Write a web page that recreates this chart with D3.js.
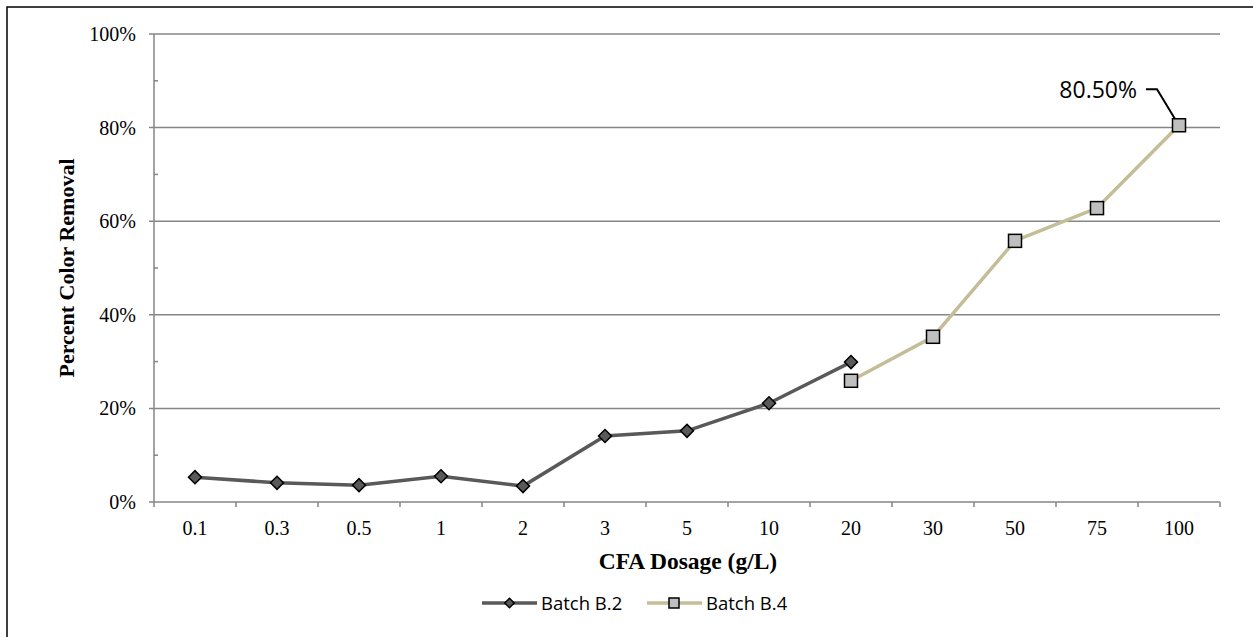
<!DOCTYPE html>
<html>
<head>
    <title>Percent Color Removal</title>
    <script src="https://d3js.org/d3.v7.min.js"></script>
    <style>
        body { margin: 0; background: #fff; }
        .tick-label { font-family: "Liberation Serif", "Times New Roman", serif; font-size: 20px; fill: #000; }
        .axis-title { font-family: "Liberation Serif", "Times New Roman", serif; font-weight: bold; fill: #000; }
        .legend-text { font-family: "Open Sans", "Noto Sans", sans-serif; font-size: 18.5px; fill: #000; }
    </style>
</head>
<body>
<script>
    // data
    var dosages = ["0.1", "0.3", "0.5", "1", "2", "3", "5", "10", "20", "30", "50", "75", "100"];
    var batchB2Dosages = ["0.1", "0.3", "0.5", "1", "2", "3", "5", "10", "20"];
    var batchB2Values = [0.053, 0.041, 0.036, 0.055, 0.034, 0.141, 0.152, 0.211, 0.299];
    var batchB4Dosages = ["20", "30", "50", "75", "100"];
    var batchB4Values = [0.259, 0.353, 0.558, 0.628, 0.805];
    var yTicks = [0, 0.2, 0.4, 0.6, 0.8, 1.0];
    var yMinorTicks = [0.1, 0.3, 0.5, 0.7, 0.9];

    var w = 1253, h = 637;
    var plotLeft = 154, plotRight = 1220, plotTop = 34, plotBottom = 502;
    var gridColor = "#868686";

    var svg = d3.select("body").append("svg")
        .attr("width", w)
        .attr("height", h);

    // outer frame (only left/top edges visible)
    svg.append("rect")
        .attr("x", 7).attr("y", 7)
        .attr("width", w + 20).attr("height", h + 20)
        .attr("fill", "#fff")
        .attr("stroke", "#000")
        .attr("stroke-width", 1.5);

    var x = d3.scaleBand().domain(dosages).range([plotLeft, plotRight]);
    var y = d3.scaleLinear().domain([0, 1]).range([plotBottom, plotTop]);

    // gridlines
    svg.selectAll(".grid")
        .data(yTicks.filter(function (d) { return d > 0; }))
        .enter().append("line")
        .attr("x1", plotLeft - 5).attr("x2", plotRight)
        .attr("y1", function (d) { return y(d); })
        .attr("y2", function (d) { return y(d); })
        .attr("stroke", gridColor)
        .attr("stroke-width", 1.5);

    // y axis
    svg.append("line")
        .attr("x1", plotLeft).attr("x2", plotLeft)
        .attr("y1", plotTop).attr("y2", plotBottom)
        .attr("stroke", gridColor).attr("stroke-width", 1.5);
    svg.append("line")
        .attr("x1", plotLeft - 5).attr("x2", plotLeft)
        .attr("y1", y(0)).attr("y2", y(0))
        .attr("stroke", gridColor).attr("stroke-width", 1.5);
    svg.selectAll(".minor")
        .data(yMinorTicks)
        .enter().append("line")
        .attr("x1", plotLeft).attr("x2", plotLeft + 4)
        .attr("y1", function (d) { return y(d); })
        .attr("y2", function (d) { return y(d); })
        .attr("stroke", gridColor).attr("stroke-width", 1.5);
    svg.selectAll(".ylab")
        .data(yTicks)
        .enter().append("text")
        .attr("class", "tick-label")
        .attr("x", plotLeft - 18)
        .attr("y", function (d) { return y(d) + 7; })
        .attr("text-anchor", "end")
        .text(function (d) { return Math.round(d * 100) + "%"; });

    // x axis
    svg.append("line")
        .attr("x1", plotLeft).attr("x2", plotRight)
        .attr("y1", plotBottom).attr("y2", plotBottom)
        .attr("stroke", gridColor).attr("stroke-width", 1.5);
    var bounds = dosages.map(function (d) { return x(d); }).concat([plotRight]);
    svg.selectAll(".xtick")
        .data(bounds)
        .enter().append("line")
        .attr("x1", function (d) { return d; })
        .attr("x2", function (d) { return d; })
        .attr("y1", plotBottom).attr("y2", plotBottom + 5)
        .attr("stroke", gridColor).attr("stroke-width", 1.5);
    svg.selectAll(".xlab")
        .data(dosages)
        .enter().append("text")
        .attr("class", "tick-label")
        .attr("x", function (d) { return x(d) + x.bandwidth() / 2; })
        .attr("y", 535)
        .attr("text-anchor", "middle")
        .text(function (d) { return d; });

    // axis titles
    svg.append("text")
        .attr("class", "axis-title")
        .attr("x", 688).attr("y", 569)
        .attr("text-anchor", "middle")
        .style("font-size", "23.5px")
        .text("CFA Dosage (g/L)");
    svg.append("text")
        .attr("class", "axis-title")
        .attr("transform", "translate(74,268) rotate(-90)")
        .attr("text-anchor", "middle")
        .style("font-size", "22px")
        .text("Percent Color Removal");

    var cx = function (d) { return x(d) + x.bandwidth() / 2; };
    var line = d3.line()
        .x(function (d) { return cx(d[0]); })
        .y(function (d) { return y(d[1]); });

    var b2 = d3.zip(batchB2Dosages, batchB2Values);
    var b4 = d3.zip(batchB4Dosages, batchB4Values);

    var b2Color = "#595959", b4Color = "#C4BD97";
    var diamond = d3.symbol().type(d3.symbolSquare).size(85);

    svg.append("path")
        .attr("d", line(b2))
        .attr("fill", "none")
        .attr("stroke", b2Color)
        .attr("stroke-width", 3.5);
    svg.selectAll(".b2pt")
        .data(b2)
        .enter().append("path")
        .attr("d", diamond)
        .attr("transform", function (d) { return "translate(" + cx(d[0]) + "," + y(d[1]) + ") rotate(45)"; })
        .attr("fill", b2Color)
        .attr("stroke", "#000")
        .attr("stroke-width", 1.5);

    svg.append("path")
        .attr("d", line(b4))
        .attr("fill", "none")
        .attr("stroke", b4Color)
        .attr("stroke-width", 3.5);

    // annotation leader for the last point
    var last = b4[b4.length - 1];
    var lx = cx(last[0]), ly = y(last[1]);
    svg.append("path")
        .attr("d", "M" + (lx - 33) + "," + (ly - 36) + "H" + (lx - 22) + "L" + (lx - 2) + "," + (ly - 3))
        .attr("fill", "none")
        .attr("stroke", "#000")
        .attr("stroke-width", 2);
    svg.append("text")
        .attr("class", "legend-text")
        .attr("x", lx - 42).attr("y", ly - 27)
        .attr("text-anchor", "end")
        .style("font-size", "23px")
        .text((last[1] * 100).toFixed(2) + "%");

    svg.selectAll(".b4pt")
        .data(b4)
        .enter().append("rect")
        .attr("x", function (d) { return cx(d[0]) - 6.5; })
        .attr("y", function (d) { return y(d[1]) - 6.5; })
        .attr("width", 13).attr("height", 13)
        .attr("fill", "#BFBFBF")
        .attr("stroke", "#000")
        .attr("stroke-width", 1.5);

    // legend
    var lg = svg.append("g").attr("transform", "translate(0,603)");
    lg.append("line").attr("x1", 482).attr("x2", 537).attr("y1", 0).attr("y2", 0)
        .attr("stroke", b2Color).attr("stroke-width", 3.5);
    lg.append("path").attr("d", d3.symbol().type(d3.symbolSquare).size(45))
        .attr("transform", "translate(509.5,0) rotate(45)")
        .attr("fill", b2Color).attr("stroke", "#000").attr("stroke-width", 1.5);
    lg.append("text").attr("class", "legend-text").attr("x", 541).attr("y", 7).text("Batch B.2");
    lg.append("line").attr("x1", 647).attr("x2", 702).attr("y1", 0).attr("y2", 0)
        .attr("stroke", b4Color).attr("stroke-width", 3.5);
    lg.append("rect").attr("x", 669).attr("y", -5).attr("width", 10).attr("height", 10)
        .attr("fill", "#BFBFBF").attr("stroke", "#000").attr("stroke-width", 1.5);
    lg.append("text").attr("class", "legend-text").attr("x", 706).attr("y", 7).text("Batch B.4");
</script>
</body>
</html>
